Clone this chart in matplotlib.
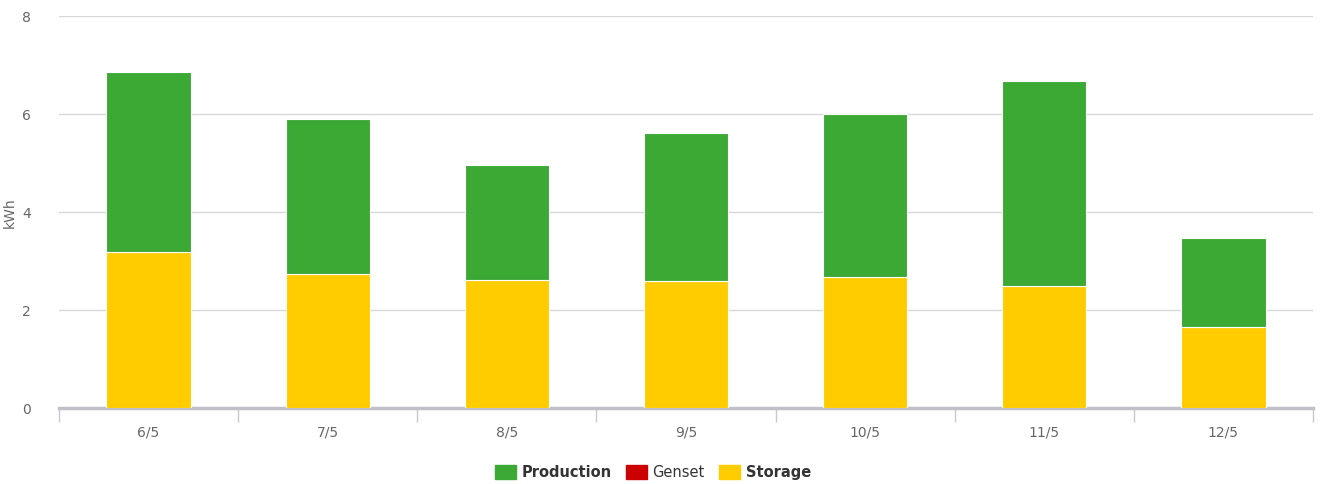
import matplotlib.pyplot as plt
from matplotlib.patches import Patch
import numpy as np

days = ['6/5', '7/5', '8/5', '9/5', '10/5', '11/5', '12/5']
storage = [3.18, 2.73, 2.61, 2.59, 2.67, 2.49, 1.65]
total = [6.86, 5.90, 4.96, 5.61, 6.00, 6.67, 3.47]
production = [t - s for t, s in zip(total, storage)]
genset = [0, 0, 0, 0, 0, 0, 0]

green = '#3da935'
red = '#cc0000'
yellow = '#ffcc00'
grey_txt = '#666666'

fig = plt.figure(figsize=(13.21, 4.85), dpi=100)
ax = fig.add_axes([59/1321, 76/485, 1254/1321, 392/485])

x = np.arange(len(days))
w = 0.47
ax.bar(x, storage, w, color=yellow, edgecolor='white', linewidth=0.8, zorder=3)
ax.bar(x, genset, w, bottom=storage, color=red, linewidth=0, zorder=3)
ax.bar(x, production, w, bottom=storage, color=green, edgecolor='white', linewidth=0.8, zorder=3)

ax.set_xlim(-0.5, len(days) - 0.5)
ax.set_ylim(0, 8)
ax.set_yticks([0, 2, 4, 6, 8])
ax.grid(axis='y', color='#d8d8d8', linewidth=1, zorder=0)
for s in ['top', 'right', 'left']:
    ax.spines[s].set_visible(False)
ax.spines['bottom'].set_color('#c0c0c8')
ax.spines['bottom'].set_linewidth(2.5)

ax.set_xticks(x)
ax.set_xticklabels(days)
ax.tick_params(axis='x', length=0, pad=12, labelsize=10, labelcolor=grey_txt)
ax.set_xticks(np.arange(len(days) + 1) - 0.5, minor=True)
ax.tick_params(axis='x', which='minor', length=10, color='#c8c8d0', width=1)
ax.tick_params(axis='y', length=0, pad=20, labelsize=10, labelcolor=grey_txt)
ax.set_ylabel('kWh', color=grey_txt, fontsize=10, labelpad=4)

handles = [Patch(color=green), Patch(color=red), Patch(color=yellow)]
leg = fig.legend(handles, ['Production', 'Genset', 'Storage'], loc='center',
                 bbox_to_anchor=(653/1321, 1 - 473/485), ncol=3, frameon=False,
                 fontsize=10.5, handlelength=1.4, handleheight=1.1,
                 handletextpad=0.4, columnspacing=1.0)
for t, wt in zip(leg.get_texts(), ['bold', 'normal', 'bold']):
    t.set_fontweight(wt)
    t.set_color('#333333')

fig.savefig('out.png', dpi=100)
